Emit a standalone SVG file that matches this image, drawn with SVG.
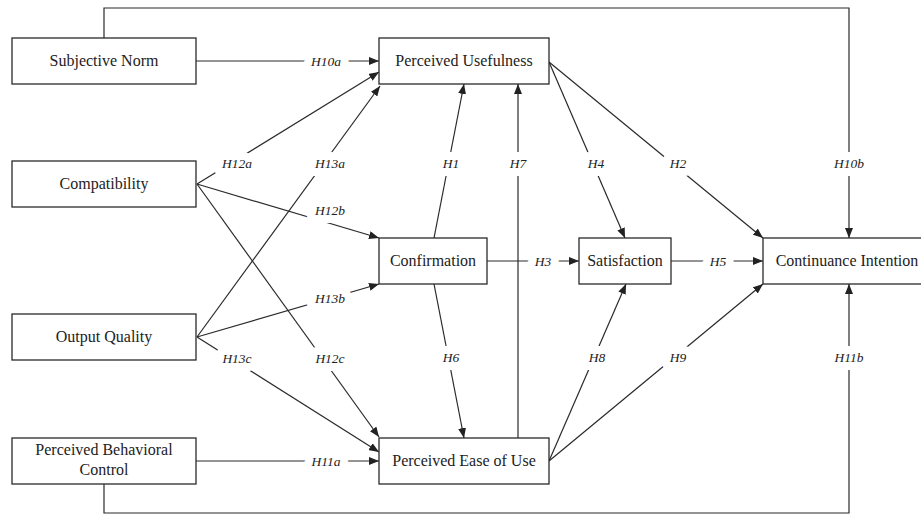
<svg xmlns="http://www.w3.org/2000/svg" width="921" height="515" viewBox="0 0 921 515">
<defs>
<marker id="arr" viewBox="0 0 10 8" refX="10" refY="4" markerWidth="10" markerHeight="8" markerUnits="userSpaceOnUse" orient="auto">
<path d="M0,0 L10,4 L0,8 Z" fill="#222"/>
</marker>
<style>
.box rect{fill:#fff;stroke:#2a2a2a;stroke-width:1.3}
.box text{font-family:"Liberation Serif","Times New Roman",serif;font-size:16px;fill:#222;text-anchor:middle}
.c line,.c path{stroke:#2a2a2a;stroke-width:1.2;fill:none}
.a{marker-end:url(#arr)}
.lbl text{font-family:"Liberation Serif","Times New Roman",serif;font-style:italic;font-size:13.5px;fill:#222;text-anchor:middle;dominant-baseline:central;stroke:#fff;stroke-width:16;paint-order:stroke;stroke-linejoin:round}
</style>
</defs>
<rect width="921" height="515" fill="#fff"/>
<g id="connectors" class="c">
<path d="M104,38 V8 H849 V238" class="a"/>
<path d="M104,484 V513 H849 V284" class="a"/>
<line x1="196" y1="61" x2="379" y2="61" class="a"/>
<line x1="197" y1="184" x2="379" y2="72" class="a"/>
<line x1="197" y1="337" x2="380" y2="86" class="a"/>
<line x1="197" y1="184" x2="379" y2="238" class="a"/>
<line x1="197" y1="337" x2="379" y2="284" class="a"/>
<line x1="197" y1="184" x2="379" y2="437" class="a"/>
<line x1="197" y1="337" x2="379" y2="452" class="a"/>
<line x1="196" y1="461" x2="379" y2="461" class="a"/>
<line x1="434" y1="238" x2="464" y2="84" class="a"/>
<line x1="518" y1="438" x2="518" y2="84" class="a"/>
<line x1="549" y1="62" x2="625" y2="238" class="a"/>
<line x1="549" y1="62" x2="763" y2="238" class="a"/>
<line x1="487" y1="261" x2="579" y2="261" class="a"/>
<line x1="671" y1="261" x2="763" y2="261" class="a"/>
<line x1="434" y1="284" x2="464" y2="438" class="a"/>
<line x1="549" y1="461" x2="626" y2="284" class="a"/>
<line x1="549" y1="461" x2="763" y2="284" class="a"/>
</g>
<g id="labels" class="lbl">
<text x="326" y="61">H10a</text>
<text x="237" y="163">H12a</text>
<text x="330" y="163">H13a</text>
<text x="330" y="210">H12b</text>
<text x="330" y="298">H13b</text>
<text x="237" y="358">H13c</text>
<text x="330" y="358">H12c</text>
<text x="326" y="461">H11a</text>
<text x="451" y="163">H1</text>
<text x="518" y="163">H7</text>
<text x="596" y="163">H4</text>
<text x="678" y="163">H2</text>
<text x="849" y="163">H10b</text>
<text x="543" y="261">H3</text>
<text x="718" y="261">H5</text>
<text x="451" y="357">H6</text>
<text x="597" y="357">H8</text>
<text x="678" y="357">H9</text>
<text x="849" y="357">H11b</text>
</g>
<g id="subjective-norm" class="box"><rect x="12" y="38" width="184" height="46"/><text x="104" y="66">Subjective Norm</text></g>
<g id="compatibility" class="box"><rect x="12" y="161" width="184" height="46"/><text x="104" y="189">Compatibility</text></g>
<g id="output-quality" class="box"><rect x="12" y="314" width="184" height="46"/><text x="104" y="342">Output Quality</text></g>
<g id="perceived-behavioral-control" class="box"><rect x="12" y="438" width="184" height="46"/><text x="104" y="455">Perceived Behavioral</text><text x="104" y="475">Control</text></g>
<g id="perceived-usefulness" class="box"><rect x="379" y="38" width="170" height="46"/><text x="464" y="66">Perceived Usefulness</text></g>
<g id="confirmation" class="box"><rect x="379" y="238" width="108" height="46"/><text x="433" y="266">Confirmation</text></g>
<g id="satisfaction" class="box"><rect x="579" y="238" width="92" height="46"/><text x="625" y="266">Satisfaction</text></g>
<g id="perceived-ease-of-use" class="box"><rect x="379" y="438" width="170" height="46"/><text x="464" y="466">Perceived Ease of Use</text></g>
<g id="continuance-intention" class="box"><rect x="763" y="238" width="170" height="46"/><text x="847" y="266">Continuance Intention</text></g>
</svg>
